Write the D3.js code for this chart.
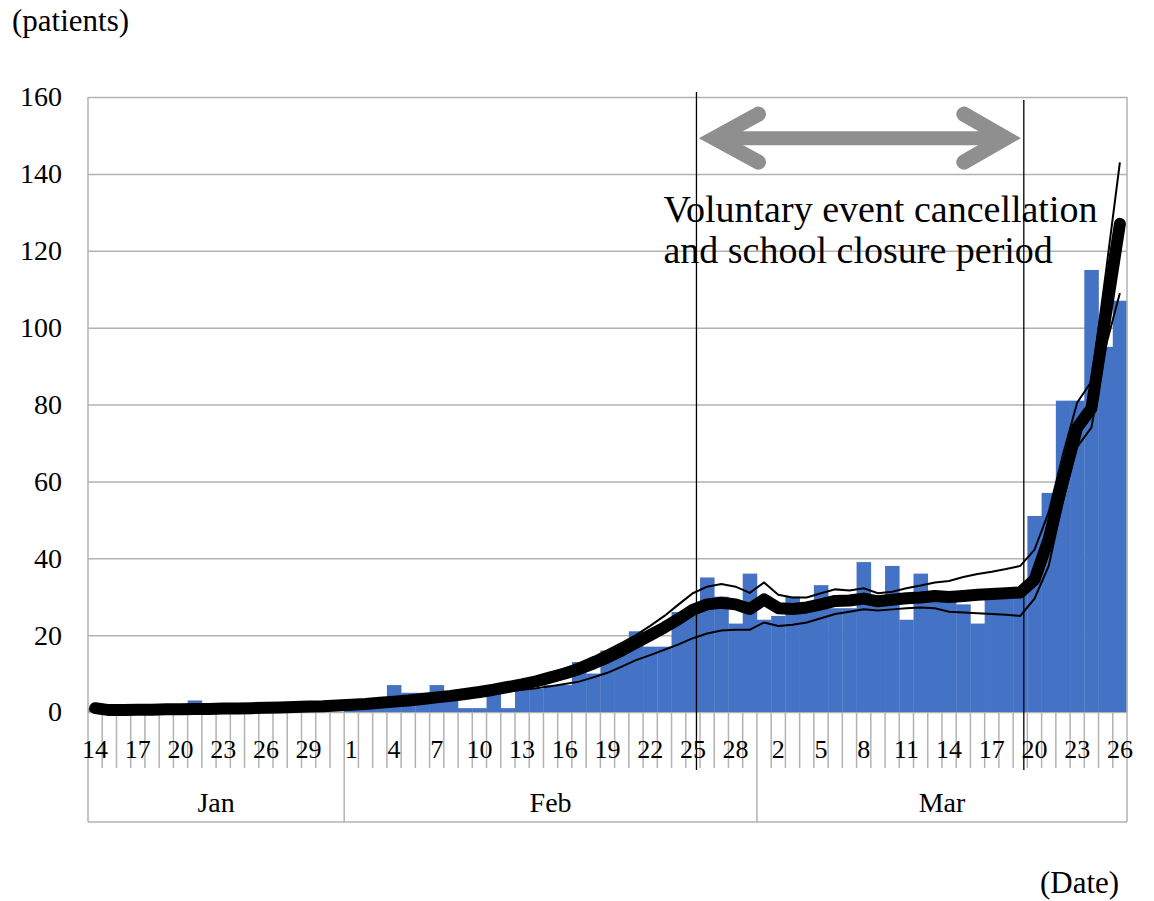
<!DOCTYPE html>
<html>
<head>
<meta charset="utf-8">
<script src="https://cdn.jsdelivr.net/npm/d3@7/dist/d3.min.js"></script>
<style>
  body { margin: 0; background: #fff; }
  svg text { font-family: "Liberation Serif", "Times New Roman", serif; fill: #000; }
</style>
</head>
<body>
<svg></svg>
<script>
// one entry per day, Jan 14 - Mar 26
var months = ["Jan", "Feb", "Mar"];
var monthDays = [
  [14,15,16,17,18,19,20,21,22,23,24,25,26,27,28,29,30,31],
  [1,2,3,4,5,6,7,8,9,10,11,12,13,14,15,16,17,18,19,20,21,22,23,24,25,26,27,28,29],
  [1,2,3,4,5,6,7,8,9,10,11,12,13,14,15,16,17,18,19,20,21,22,23,24,25,26]
];

// reported patients per day
var cases = [
  1,0,0,0,0,0,0,3,0,0,0,0,0,0,1,1,1,0,
  2,2,3,7,5,5,7,4,1,1,5,1,6,6,7,7,13,10,16,16,21,17,17,26,26,35,30,23,36,
  24,25,30,28,33,27,27,39,29,38,24,36,29,29,28,23,30,30,31,51,57,81,81,115,95,107
];

// estimated curve (thick) and its bounds (thin)
var estimate = [
  1.0,0.5,0.5,0.6,0.6,0.7,0.7,0.8,0.8,0.9,0.9,1.0,1.1,1.2,1.3,1.4,1.5,1.7,
  1.9,2.1,2.4,2.7,3.0,3.4,3.8,4.2,4.7,5.2,5.8,6.5,7.2,8.0,9.0,10.0,11.2,12.6,14.2,16.0,18.0,20.0,22.0,24.2,26.6,28.0,28.4,28.0,26.8,
  29.3,27.0,26.8,27.2,28.0,28.9,29.0,29.5,28.8,29.2,29.6,29.8,30.2,29.9,30.2,30.5,30.7,30.9,31.1,34.4,45,60,74,79,103,127
];
var upper = [
  1.0,0.5,0.5,0.6,0.6,0.7,0.7,0.8,0.8,0.9,0.9,1.0,1.1,1.2,1.3,1.4,1.5,1.7,
  1.9,2.1,2.4,2.7,3.1,3.5,3.9,4.4,4.9,5.5,6.2,6.9,7.8,8.8,10.0,11.3,12.7,14.3,16.1,18.0,20.0,22.4,25.0,28.0,30.9,32.6,33.3,32.6,31.0,
  33.7,30.5,29.8,29.8,30.9,31.9,31.6,32.2,30.9,31.3,32.2,32.9,33.7,34.1,35.1,35.9,36.5,37.2,38.0,42.2,52,67,80.5,86,114,143
];
var lower = [
  1.0,0.5,0.5,0.6,0.6,0.7,0.7,0.8,0.8,0.9,0.9,1.0,1.1,1.2,1.3,1.4,1.5,1.7,
  1.9,2.1,2.3,2.6,2.9,3.2,3.5,3.8,4.2,4.6,5.0,5.4,5.8,6.2,6.7,7.3,7.9,9.0,10.2,11.8,13.5,14.8,16.2,17.6,19.2,20.4,21.2,21.4,21.4,
  23.3,22.4,22.7,23.3,24.4,25.5,26.1,26.7,26.4,26.7,27.0,27.2,27.0,26.1,25.9,25.7,25.5,25.3,25.0,29.5,38,55,69,74,95,109
];

var yTicks = [0, 20, 40, 60, 80, 100, 120, 140, 160];
var periodStart = ["Feb", 25];
var periodEnd = ["Mar", 19];
var periodText = ["Voluntary event cancellation", "and school closure period"];

window.onload = function(){

  var svgCanvas = d3.select("svg")
      .attr("width", 1154)
      .attr("height", 901);

  var left = 88, right = 1127, top = 97, bottom = 712, frameBottom = 822;
  var serif = "'Liberation Serif', 'Times New Roman', serif";

  // flatten month/day lists into one category list
  var cats = [];
  monthDays.forEach(function(list, m){
    list.forEach(function(day){ cats.push({month: months[m], day: day}); });
  });
  function catIndex(p){
    return cats.findIndex(function(c){ return c.month == p[0] && c.day == p[1]; });
  }

  var x = d3.scaleBand()
      .domain(d3.range(cats.length))
      .range([left, right])
      .padding(0);
  var bw = x.bandwidth();
  var y = d3.scaleLinear()
      .domain([0, 160])
      .range([bottom, top]);

  // gridlines and value labels
  svgCanvas.append("g")
      .attr("transform", "translate(" + left + ",0)")
      .attr("font-family", null)
      .call(d3.axisLeft(y).tickValues(yTicks).tickSize(-(right - left)).tickPadding(26))
      .call(function(g){ g.select(".domain").remove(); })
      .call(function(g){
        g.attr("font-family", null).attr("font-size", null);
        g.selectAll("line").attr("stroke", "#b2b2b2").attr("stroke-width", 1.5);
        g.selectAll("text").style("font-family", serif).style("font-size", "28px");
      });

  // bars
  svgCanvas.append("g")
      .selectAll("rect")
      .data(cases).enter()
      .append("rect")
      .attr("x", function(d, i){ return x(i); })
      .attr("y", function(d){ return y(d); })
      .attr("width", bw + 0.3)
      .attr("height", function(d){ return bottom - y(d); })
      .attr("fill", "#4472c4");

  // frame of plot + category axis
  var frame = svgCanvas.append("g").attr("stroke", "#b2b2b2").attr("stroke-width", 1.5);
  frame.append("line").attr("x1", left).attr("x2", left).attr("y1", top).attr("y2", frameBottom);
  frame.append("line").attr("x1", right).attr("x2", right).attr("y1", top).attr("y2", frameBottom);
  frame.append("line").attr("x1", left).attr("x2", right).attr("y1", frameBottom).attr("y2", frameBottom);

  // day ticks between categories
  var monthStarts = [];
  var count = 0;
  monthDays.forEach(function(list){ monthStarts.push(count); count += list.length; });

  frame.selectAll(".dayTick")
      .data(d3.range(1, cats.length).filter(function(i){ return monthStarts.indexOf(i) < 0; }))
      .enter().append("line")
      .attr("x1", function(i){ return x(i); })
      .attr("x2", function(i){ return x(i); })
      .attr("y1", bottom)
      .attr("y2", 768);

  frame.selectAll(".monthTick")
      .data(monthStarts.slice(1))
      .enter().append("line")
      .attr("x1", function(i){ return x(i); })
      .attr("x2", function(i){ return x(i); })
      .attr("y1", bottom)
      .attr("y2", frameBottom);

  // day labels every third day
  svgCanvas.append("g")
      .selectAll("text")
      .data(cats.filter(function(c, i){ return i % 3 == 0; }))
      .enter().append("text")
      .attr("x", function(c){ return x(cats.indexOf(c)) + bw / 2; })
      .attr("y", 758)
      .attr("text-anchor", "middle")
      .attr("font-size", 26)
      .text(function(c){ return c.day; });

  // month labels
  svgCanvas.append("g")
      .selectAll("text")
      .data(months)
      .enter().append("text")
      .attr("x", function(m, k){
        var s = monthStarts[k], e = s + monthDays[k].length;
        return (x(s) + x(e - 1) + bw) / 2;
      })
      .attr("y", 812)
      .attr("text-anchor", "middle")
      .attr("font-size", 28)
      .text(function(m){ return m; });

  // estimate curves
  var line = d3.line()
      .x(function(d, i){ return x(i) + bw / 2; })
      .y(function(d){ return y(d); });

  [upper, lower].forEach(function(series){
    svgCanvas.append("path")
        .attr("d", line(series))
        .attr("fill", "none")
        .attr("stroke", "#000")
        .attr("stroke-width", 2);
  });
  svgCanvas.append("path")
      .attr("d", line(estimate))
      .attr("fill", "none")
      .attr("stroke", "#000")
      .attr("stroke-width", 12)
      .attr("stroke-linecap", "round")
      .attr("stroke-linejoin", "round");

  // period markers
  var xL = x(catIndex(periodStart)) + bw * 0.75;
  var xR = x(catIndex(periodEnd)) + bw * 0.75;
  svgCanvas.append("line")
      .attr("x1", xL).attr("x2", xL).attr("y1", 92).attr("y2", 770)
      .attr("stroke", "#000").attr("stroke-width", 1.3);
  svgCanvas.append("line")
      .attr("x1", xR).attr("x2", xR).attr("y1", 100).attr("y2", 770)
      .attr("stroke", "#000").attr("stroke-width", 1.3);

  // double arrow
  var ya = y(149.3);
  var arrow = svgCanvas.append("g")
      .attr("fill", "none")
      .attr("stroke", "#8f8f8f")
      .attr("stroke-width", 15)
      .attr("stroke-linecap", "round")
      .attr("stroke-linejoin", "miter");
  arrow.append("line")
      .attr("x1", xL + 20).attr("x2", xR - 20)
      .attr("y1", ya).attr("y2", ya)
      .attr("stroke-width", 14)
      .attr("stroke-linecap", "butt");
  arrow.append("path")
      .attr("d", "M" + (xL + 62) + "," + (ya - 24) + "L" + (xL + 18) + "," + ya + "L" + (xL + 62) + "," + (ya + 24));
  arrow.append("path")
      .attr("d", "M" + (xR - 60) + "," + (ya - 24) + "L" + (xR - 18) + "," + ya + "L" + (xR - 60) + "," + (ya + 24));

  // period label
  svgCanvas.append("g")
      .selectAll("text")
      .data(periodText)
      .enter().append("text")
      .attr("x", xL - 33)
      .attr("y", function(d, i){ return 222 + i * 41; })
      .attr("font-size", 38)
      .text(function(d){ return d; });

  // unit labels
  svgCanvas.append("text")
      .attr("x", 12).attr("y", 31)
      .attr("font-size", 31)
      .text("(patients)");
  svgCanvas.append("text")
      .attr("x", 1040).attr("y", 893)
      .attr("font-size", 31)
      .text("(Date)");
};
</script>
</body>
</html>
